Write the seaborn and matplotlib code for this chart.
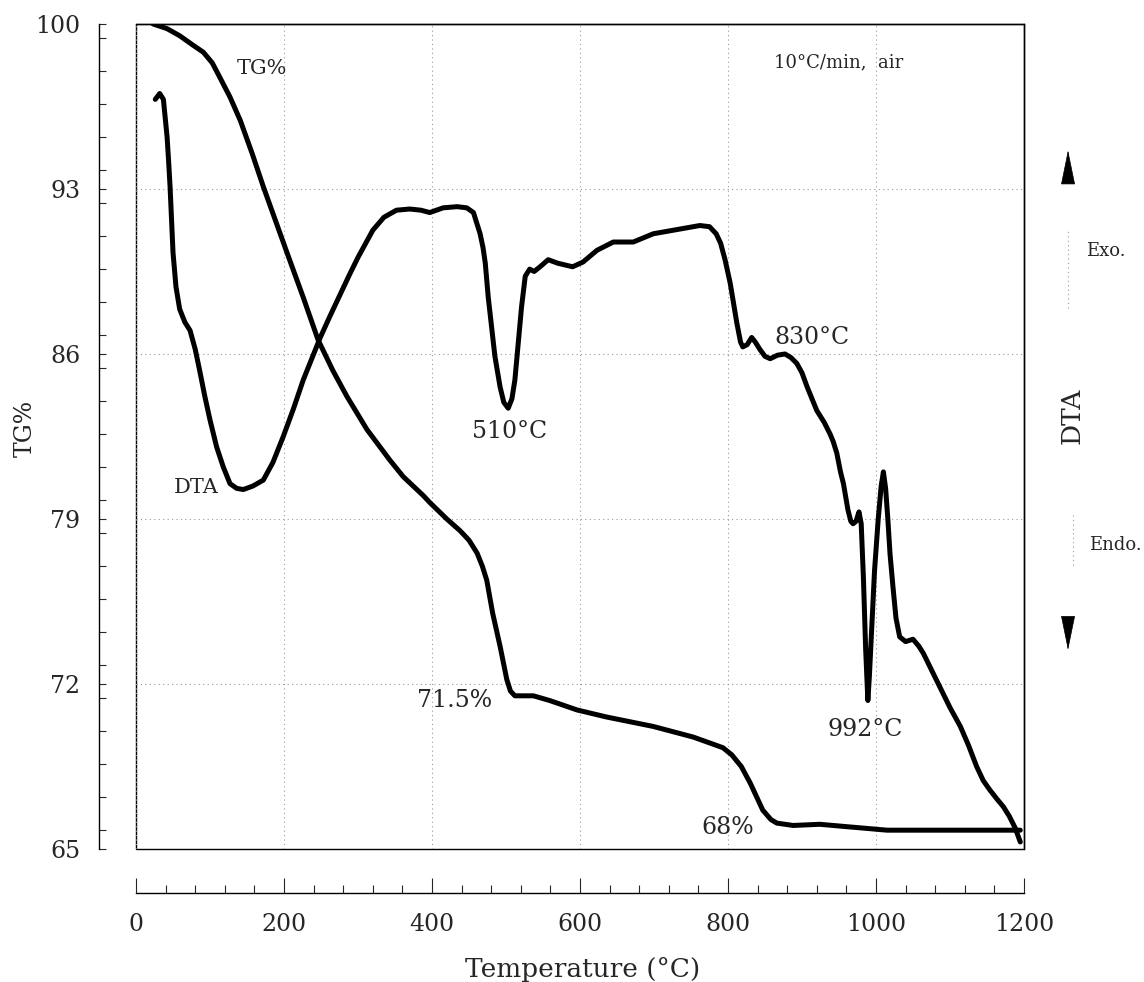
import matplotlib
matplotlib.use("Agg")
import matplotlib.pyplot as plt
import seaborn as sns
from matplotlib.ticker import MultipleLocator

# TG curve (temperature in degC, mass %)
tg_temp = [23, 42, 59, 77, 91, 103, 113, 127, 141, 157, 172, 188, 204, 226,
           246, 266, 285, 312, 343, 361, 388, 397, 420, 438, 450, 461, 468,
           474, 482, 492, 501, 506, 512, 525, 537, 559, 596, 636, 699, 753,
           793, 805, 818, 830, 847, 858, 866, 888, 924, 960, 1015, 1100, 1195]
tg_val = [100.0, 99.8, 99.5, 99.1, 98.8, 98.35, 97.75, 96.9, 95.9, 94.5, 93.1,
          91.7, 90.3, 88.4, 86.6, 85.3, 84.2, 82.8, 81.5, 80.8, 80.0, 79.7,
          79.0, 78.5, 78.1, 77.55, 77.0, 76.4, 75.0, 73.6, 72.2, 71.7, 71.5,
          71.5, 71.5, 71.3, 70.9, 70.6, 70.2, 69.75, 69.3, 69.0, 68.5, 67.8,
          66.65, 66.25, 66.1, 66.0, 66.05, 65.95, 65.8, 65.8, 65.8]

# DTA curve (drawn on the TG scale)
dta_temp = [26, 32, 37, 42, 44, 46, 48, 50, 54, 59, 66, 73, 80, 86, 93, 100,
            109, 118, 127, 136, 145, 158, 172, 185, 199, 213, 226, 249, 262,
            280, 289, 300, 320, 335, 352, 370, 385, 397, 415, 434, 447, 456,
            461, 465, 469, 472, 476, 481, 485, 492, 497, 503, 508, 512, 516,
            521, 526, 532, 538, 546, 557, 570, 590, 604, 623, 645, 672, 699,
            735, 762, 775, 784, 790, 796, 803, 812, 817, 820, 826, 832, 837,
            843, 850, 857, 867, 877, 885, 893, 900, 907, 920, 930, 938, 942,
            947, 952, 956, 962, 966, 969, 973, 977, 980, 983, 986, 989, 991,
            994, 998, 1003, 1007, 1010, 1013, 1016, 1019, 1023, 1027, 1032,
            1040, 1050, 1058, 1064, 1086, 1100, 1114, 1125, 1136, 1145, 1154,
            1164, 1172, 1180, 1188, 1195]
dta_val = [96.8, 97.05, 96.8, 95.2, 94.2, 93.1, 91.7, 90.3, 88.85, 87.9,
           87.35, 87.0, 86.2, 85.3, 84.2, 83.2, 82.05, 81.2, 80.5, 80.3, 80.25,
           80.4, 80.65, 81.4, 82.5, 83.7, 84.9, 86.7, 87.6, 88.8, 89.4, 90.1,
           91.25, 91.8, 92.1, 92.15, 92.1, 92.0, 92.2, 92.25, 92.2, 92.0, 91.5,
           91.1, 90.5, 89.85, 88.4, 87.0, 85.9, 84.6, 83.95, 83.7, 84.1, 84.9,
           86.3, 88.0, 89.3, 89.6, 89.5, 89.7, 90.0, 89.85, 89.7, 89.9, 90.4,
           90.75, 90.75, 91.1, 91.3, 91.45, 91.4, 91.1, 90.7, 90.0, 89.0, 87.3,
           86.5, 86.3, 86.4, 86.7, 86.5, 86.2, 85.9, 85.8, 85.95, 86.0, 85.85,
           85.6, 85.2, 84.6, 83.6, 83.1, 82.6, 82.3, 81.8, 81.0, 80.5, 79.4,
           78.9, 78.8, 78.9, 79.3, 78.8, 76.5, 73.5, 71.3, 72.3, 74.2, 76.8,
           79.0, 80.4, 81.0, 80.3, 79.0, 77.5, 76.1, 74.8, 74.0, 73.8, 73.9,
           73.6, 73.3, 71.9, 71.0, 70.2, 69.4, 68.5, 67.9, 67.5, 67.1, 66.8,
           66.4, 65.9, 65.3]

x_ticks = [0, 200, 400, 600, 800, 1000, 1200]
y_ticks = [65, 72, 79, 86, 93, 100]

sns.set_style("white")
plt.rcParams["font.family"] = ["DejaVu Serif", "DejaVu Sans"]

fig = plt.figure(figsize=(11.44, 9.82), dpi=100)
ax = fig.add_axes([0.1189, 0.1354, 0.7762, 0.8402])

sns.lineplot(x=tg_temp, y=tg_val, ax=ax, color="black", linewidth=3.6,
             sort=False, estimator=None)
sns.lineplot(x=dta_temp, y=dta_val, ax=ax, color="black", linewidth=3.6,
             sort=False, estimator=None)

ax.set_xlim(0, 1200)
ax.set_ylim(65, 100)
ax.set_xticks(x_ticks)
ax.set_yticks(y_ticks)
ax.xaxis.set_minor_locator(MultipleLocator(40))
ax.yaxis.set_minor_locator(MultipleLocator(1.4))
ax.grid(True, which="major", linestyle=(0, (1, 3)), color="#999999",
        linewidth=0.8)

# box around plotting area plus offset axes
ax.patch.set_edgecolor("black")
ax.patch.set_linewidth(1.0)
for s in ["top", "right"]:
    ax.spines[s].set_linewidth(1.0)
    ax.spines[s].set_color("black")
ax.spines["left"].set_position(("outward", 27))
ax.spines["bottom"].set_position(("outward", 32))
ax.spines["left"].set_bounds(65, 100)
ax.spines["bottom"].set_bounds(0, 1200)
for s in ["left", "bottom"]:
    ax.spines[s].set_linewidth(1.0)
    ax.spines[s].set_color("black")

ax.tick_params(axis="y", which="both", direction="in", length=5, width=0.8,
               pad=13, labelsize=17, left=True)
ax.tick_params(axis="x", which="major", direction="in", length=11, width=0.8,
               pad=14, labelsize=17, bottom=True)
ax.tick_params(axis="x", which="minor", direction="in", length=6, width=0.8,
               bottom=True)

ax.set_xlabel("Temperature (°C)", fontsize=19)
ax.set_ylabel("TG%", fontsize=17)
ax.xaxis.set_label_coords(0.503, -0.131)
ax.yaxis.set_label_coords(-0.112, 0.51)

# curve annotations
ax.text(170, 98.1, "TG%", fontsize=15, ha="center", va="center")
ax.text(950, 98.35, "10°C/min,  air", fontsize=13, ha="center", va="center")
ax.text(82, 80.35, "DTA", fontsize=15, ha="center", va="center")
ax.text(505, 82.7, "510°C", fontsize=17, ha="center", va="center")
ax.text(914, 86.7, "830°C", fontsize=17, ha="center", va="center")
ax.text(985, 70.05, "992°C", fontsize=17, ha="center", va="center")
ax.text(431, 71.3, "71.5%", fontsize=17, ha="center", va="center")
ax.text(799, 65.9, "68%", fontsize=17, ha="center", va="center")

# DTA direction labels on the right
fig.text(0.937, 0.577, "DTA", fontsize=19, rotation=90, ha="center",
         va="center")
fig.text(0.949, 0.744, "Exo.", fontsize=13, ha="left", va="center")
fig.text(0.952, 0.445, "Endo.", fontsize=13, ha="left", va="center")
arrow = dict(arrowstyle="-|>,head_length=2.3,head_width=0.47",
             color="black", lw=0.5, mutation_scale=10, shrinkA=0, shrinkB=0)
ax.annotate("", xy=(0.9336, 0.847), xytext=(0.9336, 0.814),
            xycoords="figure fraction", textcoords="figure fraction",
            arrowprops=arrow)
ax.annotate("", xy=(0.9336, 0.338), xytext=(0.9336, 0.371),
            xycoords="figure fraction", textcoords="figure fraction",
            arrowprops=arrow)
fig.add_artist(plt.Line2D([0.9336, 0.9336], [0.686, 0.766],
                          transform=fig.transFigure, color="#999999",
                          linestyle=(0, (1, 3)), linewidth=0.8))
fig.add_artist(plt.Line2D([0.938, 0.938], [0.425, 0.476],
                          transform=fig.transFigure, color="#999999",
                          linestyle=(0, (1, 3)), linewidth=0.8))

fig.savefig("out.png", dpi=100)
